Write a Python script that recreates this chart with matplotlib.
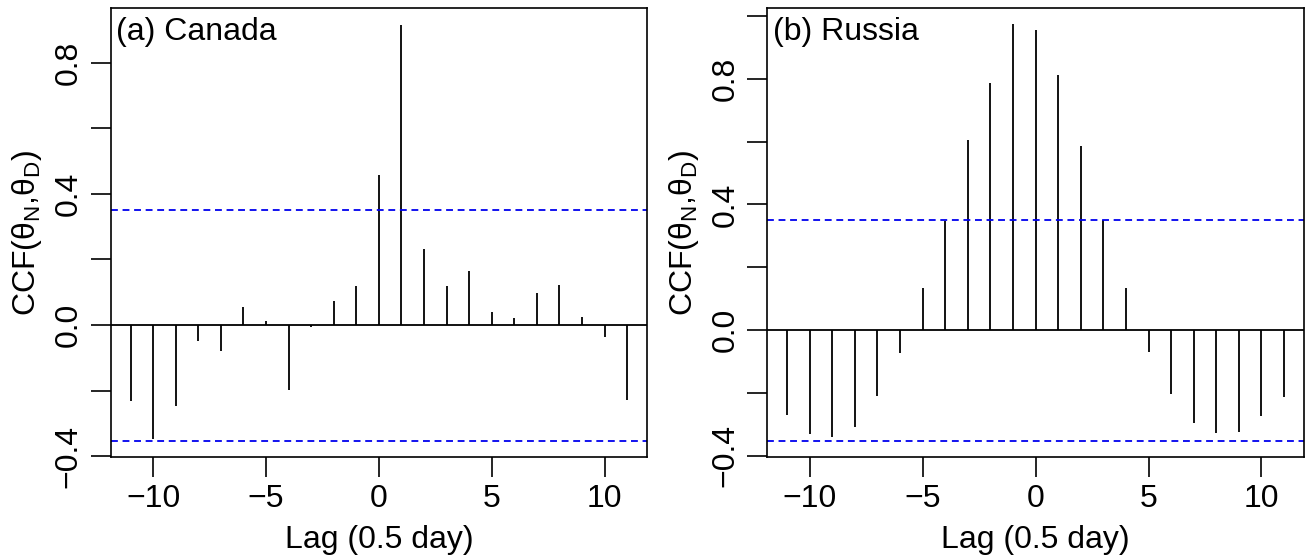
import numpy as np
import matplotlib
matplotlib.use("Agg")
import matplotlib.pyplot as plt

plt.rcParams['font.family'] = ['Liberation Sans', 'DejaVu Sans']
plt.rcParams['font.size'] = 23

# lags and cross-correlation values
lags = np.arange(-11, 12)
ccf_canada = [-0.230, -0.348, -0.247, -0.050, -0.079, 0.054, 0.012, -0.197,
              -0.005, 0.074, 0.119, 0.458, 0.915, 0.232, 0.119, 0.165,
              0.040, 0.022, 0.098, 0.121, 0.025, -0.037, -0.227]
ccf_russia = [-0.269, -0.332, -0.340, -0.308, -0.209, -0.072, 0.133, 0.346,
              0.604, 0.787, 0.973, 0.954, 0.813, 0.585, 0.352, 0.133,
              -0.071, -0.202, -0.295, -0.329, -0.326, -0.272, -0.212]
conf_limit = 0.352
panel_titles = ["(a) Canada", "(b) Russia"]
ylims = [(-0.403, 0.9655), (-0.405, 1.0245)]
yticks = [np.arange(-0.4, 0.81, 0.2), np.arange(-0.4, 1.01, 0.2)]
xticks = [-10, -5, 0, 5, 10]

fig = plt.figure(figsize=(13.08, 5.6), dpi=100)
positions = [[0.0846, 0.1834, 0.4101, 0.8018],
             [0.5866, 0.1834, 0.4103, 0.8018]]

for i, ccf in enumerate([ccf_canada, ccf_russia]):
    ax = fig.add_axes(positions[i])
    ax.vlines(lags, 0, ccf, color='black', lw=1.3)
    ax.axhline(0, color='black', lw=1.3)
    ax.axhline(conf_limit, color='#0000ee', lw=1.3, dashes=(3.8, 2.6))
    ax.axhline(-conf_limit, color='#0000ee', lw=1.3, dashes=(3.8, 2.6))
    ax.set_xlim(-11.88, 11.88)
    ax.set_ylim(*ylims[i])
    ax.set_xticks(xticks)
    ax.set_xticklabels([str(t).replace('-', '\u2212') for t in xticks])
    yt = yticks[i]
    ax.set_yticks(yt)
    labs = []
    for v in yt:
        r = round(v, 1)
        if abs(round(r / 0.4) * 0.4 - r) < 1e-6:
            labs.append(f"{r:.1f}".replace('-', '\u2212') if r != 0 else "0.0")
        else:
            labs.append("")
    ax.set_yticklabels(labs, rotation=90, va='center')
    ax.tick_params(length=14.4, width=1.2, pad=5, direction='out')
    for s in ax.spines.values():
        s.set_linewidth(1.2)
    ax.set_xlabel("Lag (0.5 day)", labelpad=8)
    ax.set_ylabel("CCF(\u03b8$_\\mathregular{N}$,\u03b8$_\\mathregular{D}$)", labelpad=7)
    ax.annotate(panel_titles[i], xy=(0, 1), xycoords='axes fraction',
                xytext=(4, -6), textcoords='offset points', ha='left', va='top')

fig.savefig("out.png", dpi=100)
